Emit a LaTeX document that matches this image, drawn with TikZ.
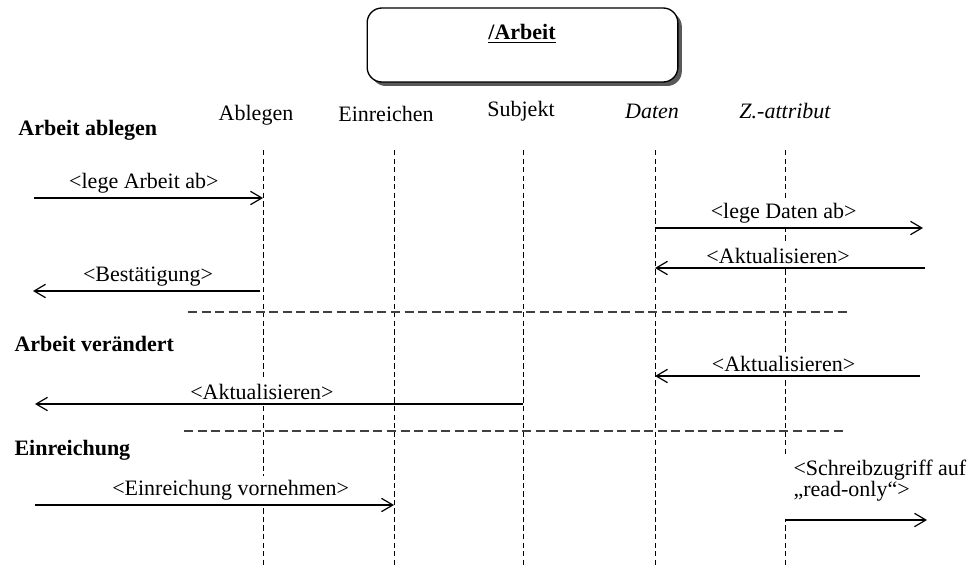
\documentclass[tikz,border=0pt]{standalone}
\usepackage{fontspec}
\setmainfont{Liberation Serif}
\usetikzlibrary{arrows.meta,shadows}

\newcommand{\diagfont}{\fontsize{16.5}{19}\selectfont}

\tikzset{every picture/.style={line width=0.75pt}}
\tikzset{
  lifeline/.style={dash pattern=on 4pt off 2.4pt, line width=0.75pt},
  msg/.style={line width=0.9pt, -{Straight Barb[length=8.5pt,width=10pt,line width=0.9pt]}},
  lbl/.style={fill=white, inner sep=3pt, above},
  divider/.style={dash pattern=on 6.75pt off 3.4pt, line width=1.1pt, color=black!75},
  hdr/.style={anchor=base, inner sep=0.75pt},
  sec/.style={anchor=base west, inner sep=0.75pt, font=\diagfont\bfseries},
  objbox/.style={draw, rounded corners=11pt, line width=1pt, fill=white,
    minimum width=233pt, minimum height=55.5pt,
    drop shadow={shadow xshift=3pt, shadow yshift=-3pt, fill=black!65, opacity=1}},
}

\begin{document}
\begin{tikzpicture}[x=0.75pt,y=0.75pt,yscale=-1,xscale=1, font=\diagfont]
\useasboundingbox (0,0) rectangle (967,567);

% Object box
\node[objbox] (arbeit) at (522.5,45) {};
\node[hdr, font=\diagfont\bfseries] (titel) at (522,40) {\underline{/Arbeit}};

% Text Node
\node[hdr] (hAblegen) at (256,120) {Ablegen};
% Text Node
\node[hdr] (hEinreichen) at (386,122) {Einreichen};
% Text Node
\node[hdr] (hSubjekt) at (521,117) {Subjekt};
% Text Node
\node[hdr] (hDaten) at (652,118) {\itshape Daten};
% Text Node
\node[hdr] (hZattr) at (785,118) {\itshape Z.-attribut};

% Lifelines
\coordinate (ablegen) at (263,150);    \coordinate (ablegenEnd) at (263,567);
\coordinate (einreichen) at (394,150); \coordinate (einreichenEnd) at (394,567);
\coordinate (subjekt) at (523,150);    \coordinate (subjektEnd) at (523,567);
\coordinate (daten) at (655,150);      \coordinate (datenEnd) at (655,567);
\coordinate (zattr) at (785,150);      \coordinate (zattrEnd) at (785,567);
\draw[lifeline] (ablegen) -- (ablegenEnd);
\draw[lifeline] (einreichen) -- (einreichenEnd);
\draw[lifeline] (subjekt) -- (subjektEnd);
\draw[lifeline] (daten) -- (datenEnd);
\draw[lifeline] (zattr) -- (zattrEnd);

% Text Node
\node[sec] (secAblegen) at (17,135) {Arbeit ablegen};
% Text Node
\node[sec] (secVeraendert) at (13,351) {Arbeit verändert};
% Text Node
\node[sec] (secEinreichung) at (13,455) {Einreichung};

% free ends of the messages
\coordinate (legeArbeit) at (34,198);
\coordinate (legeDaten) at (923,228);
\coordinate (aktDaten) at (925,268);
\coordinate (bestaetigung) at (33,291);
\coordinate (aktZattr) at (920,376);
\coordinate (aktSubjekt) at (35,404);
\coordinate (einreichung) at (35,505);
\coordinate (schreibzugriff) at (927,520);

%Straight Lines
\draw[msg] (legeArbeit) -- (legeArbeit -| ablegen) node[lbl, pos=0.48] {<lege Arbeit ab>};
%Straight Lines
\draw[msg] (legeDaten -| daten) -- (legeDaten) node[lbl, pos=0.48] {<lege Daten ab>};
%Straight Lines
\draw[msg] (aktDaten) -- (aktDaten -| daten) node[lbl, pos=0.544] {<Aktualisieren>};
%Straight Lines
\draw[msg, shorten <=2.25pt] (bestaetigung -| ablegen) -- (bestaetigung) node[lbl, pos=0.5] {<Bestätigung>};
%Straight Lines
\draw[msg] (aktZattr) -- (aktZattr -| daten) node[lbl, pos=0.515] {<Aktualisieren>};
%Straight Lines
\draw[msg] (aktSubjekt -| subjekt) -- (aktSubjekt) node[lbl, pos=0.535] {<Aktualisieren>};
%Straight Lines
\draw[msg] (einreichung) -- (einreichung -| einreichen) node[lbl, pos=0.545] {<Einreichung vornehmen>};
%Straight Lines
\node[lbl, anchor=south west, inner xsep=9pt, xshift=-3pt, align=left, text depth=14pt,
      font=\fontsize{16.5}{16}\selectfont] (schreibLbl) at (schreibzugriff -| zattr)
      {<Schreibzugriff auf\\„read-only“>};
\draw[msg] (schreibzugriff -| zattr) -- (schreibzugriff);

% Dividers
\coordinate (divAWest) at (188,312); \coordinate (divAEast) at (850,312);
\coordinate (divBWest) at (184,431); \coordinate (divBEast) at (847,431);
\draw[divider] (divAWest) -- (divAEast);
\draw[divider] (divBWest) -- (divBEast);

\end{tikzpicture}
\end{document}
